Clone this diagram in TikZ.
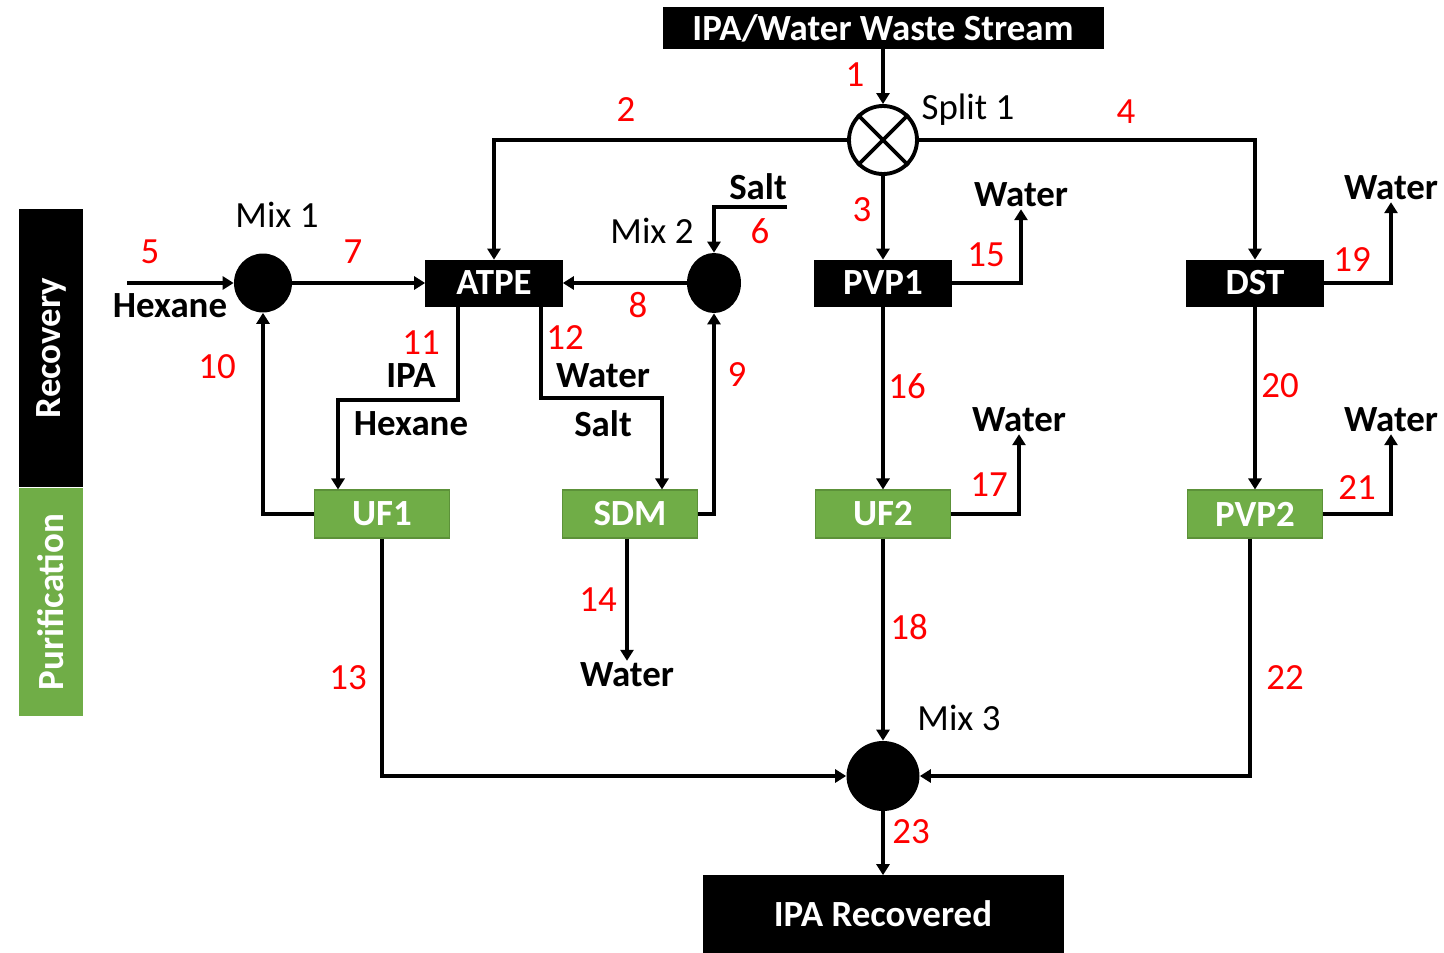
\documentclass[tikz,border=0pt]{standalone}
\usepackage{fontspec}
\setmainfont{Carlito}
\usetikzlibrary{arrows.meta,shapes.geometric}
\definecolor{purgreen}{HTML}{70AD47}
\definecolor{purgreendark}{HTML}{5C9139}
\newcommand\diagfont{\fontsize{21}{25}\selectfont}
\begin{document}
\begin{tikzpicture}[x=0.02cm, y=-0.02cm,
    unitbox/.style={fill=black, draw=black, text=white, font=\diagfont\bfseries,
        minimum width=2.74cm, minimum height=0.92cm, inner sep=0pt},
    purbox/.style={fill=purgreen, draw=purgreendark, line width=0.6pt, text=white,
        font=\diagfont\bfseries, minimum width=2.7cm, minimum height=0.96cm, inner sep=0pt},
    mixer/.style={ellipse, fill=black, inner sep=0pt},
    splitter/.style={circle, fill=white, draw=black, line width=2.2pt,
        minimum size=1.36cm, inner sep=0pt},
    num/.style={text=red, font=\diagfont, inner sep=1pt},
    lbl/.style={font=\diagfont\bfseries, inner sep=1pt},
    tag/.style={font=\diagfont, inner sep=1pt},
    flow/.style={line width=2.2pt, -{Triangle[length=0.22cm, width=0.26cm]}}]
\useasboundingbox (0,0) rectangle (1444,953);
\def\lx{0.72cm}
% Side bars
\node[fill=black, text=white, font=\diagfont\bfseries, rotate=90,
    minimum width=5.58cm, minimum height=1.28cm, inner sep=0pt] (recbar) at (51,348) {Recovery};
\node[fill=purgreen, text=white, font=\diagfont\bfseries, rotate=90,
    minimum width=4.58cm, minimum height=1.28cm, inner sep=0pt] (purbar) at (51,602) {Purification};
% Feed and product
\node[unitbox, minimum width=8.8cm, minimum height=0.82cm] (waste) at (883,28) {IPA/Water Waste Stream};
\node[unitbox, minimum width=7.2cm, minimum height=1.54cm] (rec) at (883,914) {IPA Recovered};
% Split and mixers
\node[splitter] (split) at (883,140) {};
\draw[line width=2.2pt] (split.north east) -- (split.south west)
    (split.north west) -- (split.south east);
\node[mixer, minimum width=1.16cm, minimum height=1.18cm] (mix1) at (263,283) {};
\node[mixer, minimum width=1.08cm, minimum height=1.2cm] (mix2) at (714,283) {};
\node[mixer, minimum width=1.46cm, minimum height=1.4cm] (mix3) at (883,776) {};
\node[tag] (tsplit) at (968,110) {Split 1};
\node[tag] (tmix1) at (277,215) {Mix 1};
\node[tag] (tmix2) at (652,231) {Mix 2};
\node[tag] (tmix3) at (959,718) {Mix 3};
% Recovery units
\node[unitbox] (atpe) at (494,283) {ATPE};
\node[unitbox] (pvp1) at (883,283) {PVP1};
\node[unitbox] (dst) at (1255,283) {DST};
% Purification units
\node[purbox] (uf1) at (382,514) {UF1};
\node[purbox] (sdm) at (630,514) {SDM};
\node[purbox] (uf2) at (883,514) {UF2};
\node[purbox] (pvp2) at (1255,514) {PVP2};
% Stream labels
\node[lbl] (hex5) at (170,306) {Hexane};
\node[lbl] (salt6) at (758,187) {Salt};
\node[lbl] (ipa11) at (411,376) {IPA};
\node[lbl] (hex11) at (411,424) {Hexane};
\node[lbl] (wat12) at (603,376) {Water};
\node[lbl] (salt12) at (603,424) {Salt};
\node[lbl] (w14) at (627,675) {Water};
\node[lbl] (w15) at (1021,195) {Water};
\node[lbl] (w17) at (1019,420) {Water};
\node[lbl] (w19) at (1391,188) {Water};
\node[lbl] (w21) at (1391,420) {Water};
\coordinate (c5) at (127,283);
\coordinate (c6) at (787,207);
% Connectors
\draw[flow] (waste.south) -- (split.north);
\draw[flow] (split.west) -| (atpe.north);
\draw[flow] (split.south) -- (pvp1.north);
\draw[flow] (split.east) -| (dst.north);
\draw[flow] (c5) -- (mix1.west);
\draw[flow] (c6) -| (mix2.north);
\draw[flow] (mix1.east) -- (atpe.west);
\draw[flow] (mix2.west) -- (atpe.east);
\draw[flow] (sdm.east) -| (mix2.south);
\draw[flow] (uf1.west) -| (mix1.south);
\draw[flow] ([xshift=-\lx]atpe.south) -- ++(0,94) -| ([xshift=-0.88cm]uf1.north);
\draw[flow] ([xshift=0.94cm]atpe.south) -- ++(0,92) -| ([xshift=0.64cm]sdm.north);
\draw[flow] (uf1.south) |- (mix3.west);
\draw[flow] (sdm.south -| w14.north) -- (w14.north);
\draw[flow] (pvp1.east) -| (w15.south);
\draw[flow] (pvp1.south) -- (uf2.north);
\draw[flow] (uf2.east) -| (w17.south);
\draw[flow] (uf2.south) -- (mix3.north);
\draw[flow] (dst.east) -| (w19.south);
\draw[flow] (dst.south) -- (pvp2.north);
\draw[flow] (pvp2.east) -| (w21.south);
\draw[flow] ([xshift=-0.1cm]pvp2.south) |- (mix3.east);
\draw[flow] (mix3.south) -- (rec.north);
% Stream numbers
\node[num] (n1) at (855,75) {1};
\node[num] (n2) at (626,110) {2};
\node[num] (n3) at (862,210) {3};
\node[num] (n4) at (1126,112) {4};
\node[num] (n5) at (150,252) {5};
\node[num] (n6) at (760,231) {6};
\node[num] (n7) at (353,252) {7};
\node[num] (n8) at (638,305) {8};
\node[num] (n9) at (737,375) {9};
\node[num] (n10) at (217,367) {10};
\node[num] (n11) at (421,343) {11};
\node[num] (n12) at (565,338) {12};
\node[num] (n13) at (348,678) {13};
\node[num] (n14) at (598,600) {14};
\node[num] (n15) at (986,255) {15};
\node[num] (n16) at (907,386) {16};
\node[num] (n17) at (989,485) {17};
\node[num] (n18) at (909,627) {18};
\node[num] (n19) at (1352,260) {19};
\node[num] (n20) at (1280,386) {20};
\node[num] (n21) at (1357,488) {21};
\node[num] (n22) at (1285,678) {22};
\node[num] (n23) at (911,832) {23};
\end{tikzpicture}
\end{document}
